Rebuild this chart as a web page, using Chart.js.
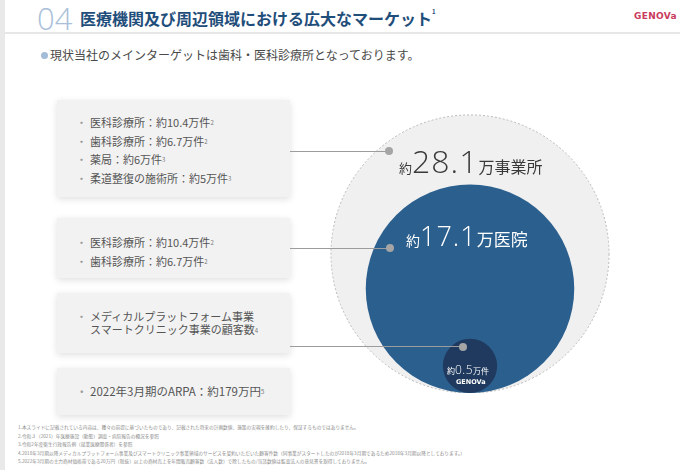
<!DOCTYPE html>
<html lang="ja">
<head>
<meta charset="utf-8">
<script src="https://cdn.jsdelivr.net/npm/chart.js@4/dist/chart.umd.min.js"></script>
<style>
  body { margin: 0; width: 680px; height: 470px; background: #fff; position: relative; overflow: hidden;
         font-family: "Noto Sans CJK JP", "Noto Sans", sans-serif; }
  .abs { position: absolute; }
  #strip { left: 0; top: 0; width: 5px; height: 470px; background: #e9e9e9; }
  #rule { left: 5px; right: 0; top: 32px; height: 2px; background: #e7e7e7; }
  #num { left: 37px; top: -3px; font: 300 31px "Open Sans", "Noto Sans", sans-serif; color: #aac0d9; }
  #title { left: 80px; top: 6px; font-weight: bold; font-size: 16px; color: #1f4e7b; }
  #title sup, .box sup { font-size: 6px; vertical-align: top; position: relative; top: 1px; color: #777; }
  #title sup { color: #1f4e7b; }
  #logo { left: 634px; top: 11px; font: bold 9px "DejaVu Sans", sans-serif; color: #c93a5c; letter-spacing: 0.3px; }
  #sub { left: 50px; top: 46px; font-size: 12px; color: #4a4a4a; }
  #subdot { left: 41px; top: 52px; width: 7px; height: 7px; border-radius: 50%; background: #a3bcd8; }
  .box { position: absolute; left: 57px; width: 233px; background: #f2f2f2;
         box-shadow: 0 2px 7px rgba(0,0,0,0.13); font-size: 11px; color: #555; box-sizing: border-box; }
  .box div { position: relative; padding-left: 33px; line-height: 18.5px; }
  .box div::before { content: "・"; position: absolute; left: 19px; color: #999; }
  .line { position: absolute; height: 1px; background: #9c9c9c; }
  .dot { position: absolute; width: 8px; height: 8px; border-radius: 50%; background: #a5a5a5; }
  #chartWrap { left: 320px; top: 93px; width: 300px; height: 300px; }
  .lbl { position: absolute; white-space: nowrap; }
  .big { font-family: "Open Sans", "Noto Sans", sans-serif; font-weight: 300; letter-spacing: 1px; }
  #notes { left: 18px; top: 423px; font-size: 4.7px; line-height: 8.6px; color: #8c8c8c; white-space: nowrap; }
</style>
</head>
<body>
<div class="abs" id="strip"></div>
<div class="abs" id="num">04</div>
<div class="abs" id="title">医療機関及び周辺領域における広大なマーケット<sup>1</sup></div>
<div class="abs" id="logo">GENOVa</div>
<div class="abs" id="rule"></div>
<div class="abs" id="subdot"></div>
<div class="abs" id="sub">現状当社のメインターゲットは歯科・医科診療所となっております。</div>

<div class="box" style="top:100px;height:97px;padding-top:13px;">
  <div>医科診療所：約10.4万件<sup>2</sup></div>
  <div>歯科診療所：約6.7万件<sup>2</sup></div>
  <div>薬局：約6万件<sup>3</sup></div>
  <div>柔道整復の施術所：約5万件<sup>3</sup></div>
</div>
<div class="box" style="top:218px;height:60px;padding-top:15px;">
  <div>医科診療所：約10.4万件<sup>2</sup></div>
  <div>歯科診療所：約6.7万件<sup>2</sup></div>
</div>
<div class="box" style="top:293px;height:60px;padding-top:17px;">
  <div style="line-height:13px;">メディカルプラットフォーム事業<br>スマートクリニック事業の顧客数<sup>4</sup></div>
</div>
<div class="box" style="top:368px;height:47px;padding-top:14px;font-size:11.5px;">
  <div>2022年3月期のARPA：約179万円<sup>5</sup></div>
</div>

<div class="abs" id="chartWrap"><canvas id="marketChart" width="300" height="300"></canvas></div>

<div class="line" style="left:290px;top:151px;width:99px;"></div>
<div class="line" style="left:290px;top:248px;width:100px;"></div>
<div class="line" style="left:290px;top:346px;width:173px;"></div>
<div class="dot" style="left:385px;top:147px;"></div>
<div class="dot" style="left:386px;top:244px;"></div>
<div class="dot" style="left:459px;top:343px;"></div>

<div class="lbl" style="left:399px;top:139px;color:#3a3a3a;">
  <span style="font-size:13px;">約</span><span class="big" style="font-size:32px;">28.1</span><span style="font-size:16px;">万事業所</span>
</div>
<div class="lbl" style="left:406px;top:217px;color:#fff;">
  <span style="font-size:14px;">約</span><span class="big" style="font-size:27px;">17.1</span><span style="font-size:17px;">万医院</span>
</div>
<div class="lbl" style="left:447px;top:355px;color:#fff;">
  <span style="font-size:8px;">約</span><span class="big" style="font-size:12px;letter-spacing:0.5px;">0.5</span><span style="font-size:8px;">万件</span>
</div>
<div class="lbl" style="left:456px;top:378px;color:#fff;font:bold 6.5px 'DejaVu Sans',sans-serif;">GENOVa</div>

<div class="abs" id="notes">
1.本スライドに記載されている内容は、種々の前提に基づいたものであり、記載された将来の計画数値、施策の実現を確約したり、保証するものではありません。<br>
2.令和３（2021）年医療施設（動態）調査・病院報告の概況を参照<br>
3.令和2年度衛生行政報告例（就業医療関係者）を参照<br>
4.2018年3月期以降メディカルプラットフォーム事業及びスマートクリニック事業領域のサービスを契約いただいた顧客件数（同事業がスタートしたのが2018年3月期であるため2018年3月期以降としております。）<br>
5.2022年3月期の主力商材価格帯である20万円（税抜）以上の商材売上を年間販売顧客数（法人数）で除したもの/当該数値は監査法人の意見書を取得しておりません。
</div>

<script>
// 市場規模（万件）
const groups = ['医科・歯科診療所・薬局・柔道整復の施術所', '医科・歯科診療所', 'GENOVA顧客数'];
const counts = [28.1, 17.1, 0.5];

const fills = ['#f0f0f0', '#2b5f8e', '#1f3a5e'];
const borders = ['#b9b9b9', '#2b5f8e', '#1f3a5e'];

// 円の大きさ（軸の単位）。小さい円は見える大きさに
const outerR = 0.927;
const maxCount = Math.max(...counts);
function radiusUnits(c) {
  return outerR * Math.max(Math.pow(c / maxCount, 0.58), 0.195);
}

// 下端をそろえる：中心の高さ = 半径
function buildPoints(chart) {
  return counts.map(c => {
    const ry = radiusUnits(c);
    const p = { x: 0, y: ry };
    if (chart) {
      const ys = chart.scales.y;
      p.r = ys.getPixelForValue(0) - ys.getPixelForValue(ry);
    }
    return p;
  });
}

const dashBorder = {
  id: 'dashBorder',
  beforeDatasetsDraw(chart) { chart.ctx.save(); chart.ctx.setLineDash([2, 2]); },
  afterDatasetsDraw(chart) { chart.ctx.restore(); }
};

const chart = new Chart(document.getElementById('marketChart'), {
  type: 'bubble',
  data: {
    labels: groups,
    datasets: [{
      label: '市場規模',
      data: buildPoints(null),
      backgroundColor: fills,
      borderColor: borders,
      borderWidth: [1, 0, 0],
      clip: false
    }]
  },
  options: {
    responsive: false,
    animation: false,
    events: [],
    layout: { padding: 0, autoPadding: false },
    scales: {
      x: { type: 'linear', min: -1, max: 1, display: false },
      y: { type: 'linear', min: 0, max: 2, display: false }
    },
    plugins: {
      legend: { display: false },
      tooltip: { enabled: false }
    }
  },
  plugins: [dashBorder]
});

chart.data.datasets[0].data = buildPoints(chart);
chart.update('none');
</script>
</body>
</html>
